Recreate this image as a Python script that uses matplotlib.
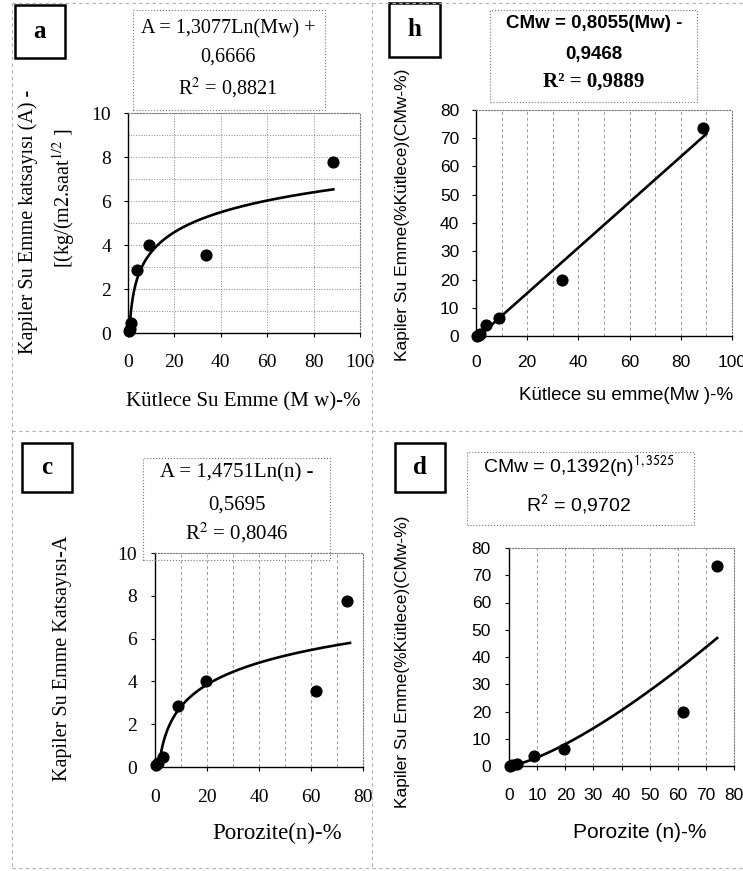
import numpy as np
import matplotlib
matplotlib.use("Agg")
import matplotlib.pyplot as plt
from matplotlib.patches import Rectangle
from matplotlib.lines import Line2D

W, H = 743, 871
plt.rcParams['mathtext.fontset'] = 'stix'
SERIF = 'Liberation Serif'
SANS = 'Liberation Sans'

# veriler
mw = [0.5, 1.0, 1.5, 4.0, 9.0, 33.5, 88.5]          # Kütlece su emme (Mw) %
porozite = [0.5, 1.0, 3.0, 9.0, 19.5, 62.0, 74.0]   # Porozite (n) %
a_katsayi = [0.1, 0.2, 0.45, 2.85, 4.0, 3.55, 7.75]  # Kapiler su emme katsayısı A
cmw = [0.1, 0.3, 0.6, 3.8, 6.2, 20.0, 73.5]          # Kapiler su emme (%Kütlece)

# trend denklemleri
fit_a = (1.3077, 0.6666)    # A = k*Ln(Mw) + c
fit_b = (0.8055, -0.9468)   # CMw = k*Mw + c
fit_c = (1.4751, -0.5695)   # A = k*Ln(n) + c
fit_d = (0.1392, 1.3525)    # CMw = k*n^p


def px(x0, y0, x1, y1):
    return [x0 / W, 1 - y1 / H, (x1 - x0) / W, (y1 - y0) / H]


def ftext(x, y, s, **kw):
    kw.setdefault('ha', 'center')
    kw.setdefault('va', 'center')
    fig.text(x / W, 1 - y / H, s, **kw)


def fbox(x0, y0, x1, y1, **kw):
    fig.patches.append(Rectangle((x0 / W, 1 - y1 / H), (x1 - x0) / W, (y1 - y0) / H,
                                 transform=fig.transFigure, fill=False, **kw))


def fline(xs, ys):
    fig.lines.append(Line2D([x / W for x in xs], [1 - y / H for y in ys],
                            transform=fig.transFigure, color='#b0b0b0',
                            lw=0.8, ls=(0, (3, 3))))


def style(ax, family, size, xpad, ypad):
    ax.spines['top'].set_linestyle(':')
    ax.spines['right'].set_linestyle(':')
    ax.spines['top'].set_color('#777777')
    ax.spines['right'].set_color('#777777')
    ax.spines['left'].set_linewidth(1.0)
    ax.spines['bottom'].set_linewidth(1.0)
    ax.tick_params(axis='both', direction='out', length=3, width=0.8,
                   labelsize=size, labelfontfamily=family)
    ax.tick_params(axis='x', pad=xpad)
    ax.tick_params(axis='y', pad=ypad)
    ax.set_axisbelow(True)


fig = plt.figure(figsize=(W / 100, H / 100), dpi=100)

# ---- a ----
ax = fig.add_axes(px(128, 113, 360, 333))
xs = np.linspace(0.6, 88.5, 300)
ax.plot(xs, fit_a[0] * np.log(xs) + fit_a[1], color='black', lw=1.9)
ax.scatter(mw, a_katsayi, s=60, color='black', zorder=3, clip_on=False)
ax.set_xlim(0, 100)
ax.set_ylim(0, 10)
ax.set_xticks(range(0, 101, 20))
ax.set_yticks(range(0, 11, 2))
ax.set_yticks(range(0, 11, 1), minor=True)
ax.tick_params(axis='y', which='minor', length=0)
ax.grid(True, axis='y', which='both', ls=':', color='#888888', lw=0.7)
ax.grid(True, axis='x', which='major', ls=':', color='#888888', lw=0.7)
style(ax, SERIF, 14, 12, 9)

# ---- b ----
ax = fig.add_axes(px(476, 110, 732, 336))
xs = np.linspace(1.2, 90, 50)
ax.plot(xs, fit_b[0] * xs + fit_b[1], color='black', lw=1.9)
ax.scatter(mw, cmw, s=60, color='black', zorder=3, clip_on=False)
ax.set_xlim(0, 100)
ax.set_ylim(0, 80)
ax.set_xticks(range(0, 101, 20))
ax.set_xticks(range(0, 101, 10), minor=True)
ax.tick_params(axis='x', which='minor', length=0)
ax.set_yticks(range(0, 81, 10))
ax.grid(True, axis='x', which='both', ls=(0, (3, 3)), color='#999999', lw=0.7)
style(ax, SANS, 12.5, 11, 9)

# ---- c ----
ax = fig.add_axes(px(155, 553, 363, 767))
xs = np.linspace(1.5, 75, 300)
ax.plot(xs, fit_c[0] * np.log(xs) + fit_c[1], color='black', lw=1.9)
ax.scatter(porozite, a_katsayi, s=60, color='black', zorder=3, clip_on=False)
ax.set_xlim(0, 80)
ax.set_ylim(0, 10)
ax.set_xticks(range(0, 81, 20))
ax.set_xticks(range(0, 81, 10), minor=True)
ax.tick_params(axis='x', which='minor', length=0)
ax.set_yticks(range(0, 11, 2))
ax.grid(True, axis='x', which='both', ls=(0, (3, 3)), color='#999999', lw=0.7)
style(ax, SERIF, 14, 13, 10)

# ---- d ----
ax = fig.add_axes(px(509, 548, 734, 766))
xs = np.linspace(0.3, 74, 300)
ax.plot(xs, fit_d[0] * xs ** fit_d[1], color='black', lw=1.9)
ax.scatter(porozite, cmw, s=60, color='black', zorder=3, clip_on=False)
ax.set_xlim(0, 80)
ax.set_ylim(0, 80)
ax.set_xticks(range(0, 81, 10))
ax.set_yticks(range(0, 81, 10))
ax.grid(True, axis='x', which='major', ls=(0, (3, 3)), color='#999999', lw=0.7)
style(ax, SANS, 12.5, 13, 10)

# ---- eksen başlıkları ----
ftext(28, 222, 'Kapiler Su Emme katsayısı (A) -', rotation=90, family=SERIF, fontsize=14.5)
ftext(64, 198, r'[(kg/(m2.saat$^{1/2}$ ]', rotation=90, family=SERIF, fontsize=14.5)
ftext(243, 402, 'Kütlece Su Emme (M w)-%', family=SERIF, fontsize=15)

ftext(403, 215, 'Kapiler Su Emme(%Kütlece)(CMw-%)', rotation=90, family=SANS, fontsize=12.5)
ftext(626, 395, 'Kütlece su emme(Mw )-%', family=SANS, fontsize=13.5)

ftext(62, 658, 'Kapiler Su Emme Katsayısı-A', rotation=90, family=SERIF, fontsize=14.5)
ftext(277, 833, 'Porozite(n)-%', family=SERIF, fontsize=16.5)

ftext(402, 662, 'Kapiler Su Emme(%Kütlece)(CMw-%)', rotation=90, family=SANS, fontsize=12.5)
ftext(640, 832, 'Porozite (n)-%', family=SANS, fontsize=15)

# ---- denklem kutuları ----
dot = dict(lw=0.8, ls=':', edgecolor='#777777')
fbox(133, 10, 325, 110, **dot)
ftext(228, 29, 'A = 1,3077Ln(Mw) +', family=SERIF, fontsize=14.5)
ftext(228, 57, '0,6666', family=SERIF, fontsize=14.5)
ftext(228, 88, 'R$^2$ = 0,8821', family=SERIF, fontsize=14.5)

fbox(490, 10, 697, 102, **dot)
ftext(594, 23, 'CMw = 0,8055(Mw) -', family=SANS, fontsize=13.5, weight='bold')
ftext(594, 55, '0,9468', family=SANS, fontsize=13.5, weight='bold')
ftext(594, 82, 'R² = 0,9889', family=SERIF, fontsize=15, weight='bold')

fbox(143, 458, 330, 560, **dot)
ftext(237, 473, 'A = 1,4751Ln(n) -', family=SERIF, fontsize=15)
ftext(237, 505, '0,5695', family=SERIF, fontsize=15)
ftext(237, 533, 'R$^2$ = 0,8046', family=SERIF, fontsize=15)

fbox(467, 452, 694, 525, **dot)
ftext(579, 467, r'CMw = 0,1392(n)$^{\mathsf{1,3525}}$', family=SANS, fontsize=14)
ftext(579, 505, 'R$^{\\mathsf{2}}$ = 0,9702', family=SANS, fontsize=14)

# ---- panel harfleri ----
solid = dict(lw=1.8, edgecolor='black')
for (x0, y0, x1, y1), harf in zip([(15, 5, 65, 58), (389, 3, 440, 57),
                                   (22, 443, 72, 492), (395, 443, 445, 492)],
                                  ['a', 'h', 'c', 'd']):
    fbox(x0, y0, x1, y1, **solid)
    ftext((x0 + x1) / 2, (y0 + y1) / 2, harf, family=SERIF, fontsize=18, weight='bold')

# ---- bölme çizgileri ----
fline([12, 742], [3, 3])
fline([12, 12], [3, 868])
fline([372, 372], [3, 868])
fline([12, 742], [431, 431])
fline([12, 742], [868, 868])

fig.savefig('out.png', dpi=100)
